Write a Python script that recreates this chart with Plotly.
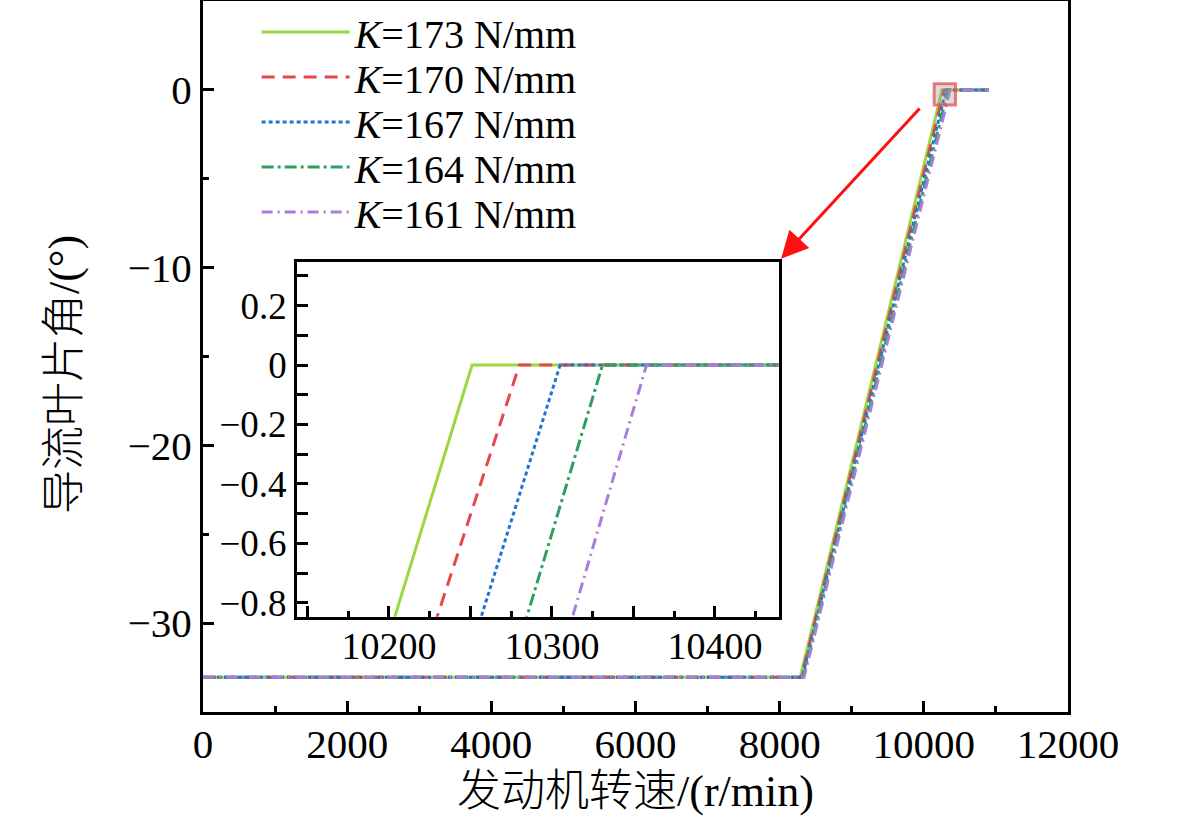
import plotly.graph_objects as go

# stiffness of each curve (N/mm)
k_values = [173, 170, 167, 164, 161]

# guide vane angle at the break points (deg), same for all curves
angle_pts = [-33.05, -33.05, -0.84, 0.0, 0.0]

# engine speed at those break points (r/min), one list per curve
speed_k173 = [0, 8285, 10204, 10251, 10900]
speed_k170 = [0, 8300, 10230, 10280, 10900]
speed_k167 = [0, 8312, 10257, 10305, 10900]
speed_k164 = [0, 8325, 10285, 10331, 10900]
speed_k161 = [0, 8338, 10313, 10358, 10900]
speeds = [speed_k173, speed_k170, speed_k167, speed_k164, speed_k161]

colors = ["#9BD83F", "#E8474A", "#2472D4", "#2E9F62", "#A97DDC"]
dashes = ["solid", "13px,8px", "4px,3px", "12px,4px,3px,4px", "11px,5px,2px,5px"]

# zoom window shown in the inset
zoom_x = [10143.6, 10439.3]
zoom_y = [-0.847, 0.348]

inset_xticks = [10150, 10200, 10250, 10300, 10350, 10400]
inset_xlabels = ["", "10200", "", "10300", "", "10400"]
inset_yticks = [-0.8, -0.7, -0.6, -0.5, -0.4, -0.3, -0.2, -0.1, 0.0, 0.1, 0.2, 0.3]
inset_ylabels = ["\u22120.8", "", "\u22120.6", "", "\u22120.4", "", "\u22120.2", "", "0", "", "0.2", ""]

FONT = "Liberation Serif, Times New Roman, serif, Noto Sans CJK SC"


def font(size, weight=None):
    d = dict(family=FONT, size=size, color="black")
    if weight:
        d["weight"] = weight
    return d


fig = go.Figure()

for i, (k, xs) in enumerate(zip(k_values, speeds)):
    leg = "legend" if i == 0 else "legend%d" % (i + 1)
    fig.add_trace(go.Scatter(
        x=xs, y=angle_pts, mode="lines",
        line=dict(color=colors[i], width=3, dash=dashes[i]),
        name="<i>K</i>=%d N/mm" % k, legend=leg,
        xaxis="x", yaxis="y",
    ))
    fig.add_trace(go.Scatter(
        x=xs, y=angle_pts, mode="lines",
        line=dict(color=colors[i], width=3, dash=dashes[i]),
        showlegend=False, xaxis="x2", yaxis="y2",
    ))

axis_common = dict(
    showline=True, linewidth=3, linecolor="black", mirror=True,
    ticks="inside", ticklen=11, tickwidth=3, tickcolor="black",
    showgrid=False, zeroline=False,
)

# one legend per entry so the rows can sit closer than plotly's default spacing
row_px = [32, 77, 122, 167, 212]
legends = {}
for i, py in enumerate(row_px):
    key = "legend" if i == 0 else "legend%d" % (i + 1)
    legends[key] = dict(
        x=0.062, y=(712 - py) / 711, xanchor="left", yanchor="middle",
        bgcolor="rgba(0,0,0,0)", borderwidth=0,
        font=font(40), itemwidth=88,
    )

fig.update_layout(
    width=1181, height=829,
    margin=dict(l=203, r=113, t=1, b=117, autoexpand=False),
    paper_bgcolor="white", plot_bgcolor="white",
    font=font(41),
    xaxis=dict(
        range=[0, 12000], tick0=0, dtick=2000, tickformat="d",
        minor=dict(ticks="inside", dtick=1000, ticklen=6, tickwidth=3, tickcolor="black"),
        title=dict(text="发动机转速/(r/min)", font=font(44, 300), standoff=4),
        tickfont=font(41), ticklabelstandoff=-6,
        **axis_common,
    ),
    yaxis=dict(
        range=[-35, 5], tick0=0, dtick=10,
        minor=dict(ticks="inside", dtick=5, ticklen=6, tickwidth=3, tickcolor="black"),
        tickfont=font(41),
        **axis_common,
    ),
    xaxis2=dict(
        domain=[0.1087, 0.6659], anchor="y2", range=zoom_x,
        tickmode="array", tickvals=inset_xticks, ticktext=inset_xlabels,
        minor=dict(ticks="inside", dtick=25, ticklen=6, tickwidth=3, tickcolor="black"),
        tickfont=font(38), ticklabelstandoff=-6,
        **axis_common,
    ),
    yaxis2=dict(
        domain=[0.1340, 0.6333], anchor="x2", range=zoom_y,
        tickmode="array", tickvals=inset_yticks, ticktext=inset_ylabels,
        tickfont=font(37),
        **axis_common,
    ),
    **legends,
)

# y axis title, placed by hand so it sits a little below the axis centre like the original
fig.add_annotation(
    text="导流叶片角/(°)", textangle=-90, showarrow=False,
    xref="paper", yref="paper", x=-0.1595, y=0.474,
    xanchor="center", yanchor="middle", font=font(44, 300),
)

# highlighted zoom window on the main axes
fig.add_shape(
    type="rect", xref="x", yref="y",
    x0=zoom_x[0], x1=zoom_x[1], y0=zoom_y[0], y1=zoom_y[1],
    fillcolor="rgba(150,150,150,0.35)",
    line=dict(color="rgba(232,80,80,0.75)", width=3),
    layer="above",
)

# arrow from the window to the inset
fig.add_annotation(
    x=8019, y=-9.5, xref="x", yref="y",
    ax=9961, ay=-0.96, axref="x", ayref="y",
    text="", showarrow=True, arrowhead=2, arrowsize=1.8,
    arrowwidth=3, arrowcolor="#FF1010",
)

fig.write_html("out.html", config={"displayModeBar": False},
               post_script="document.body.style.margin='0px';")
